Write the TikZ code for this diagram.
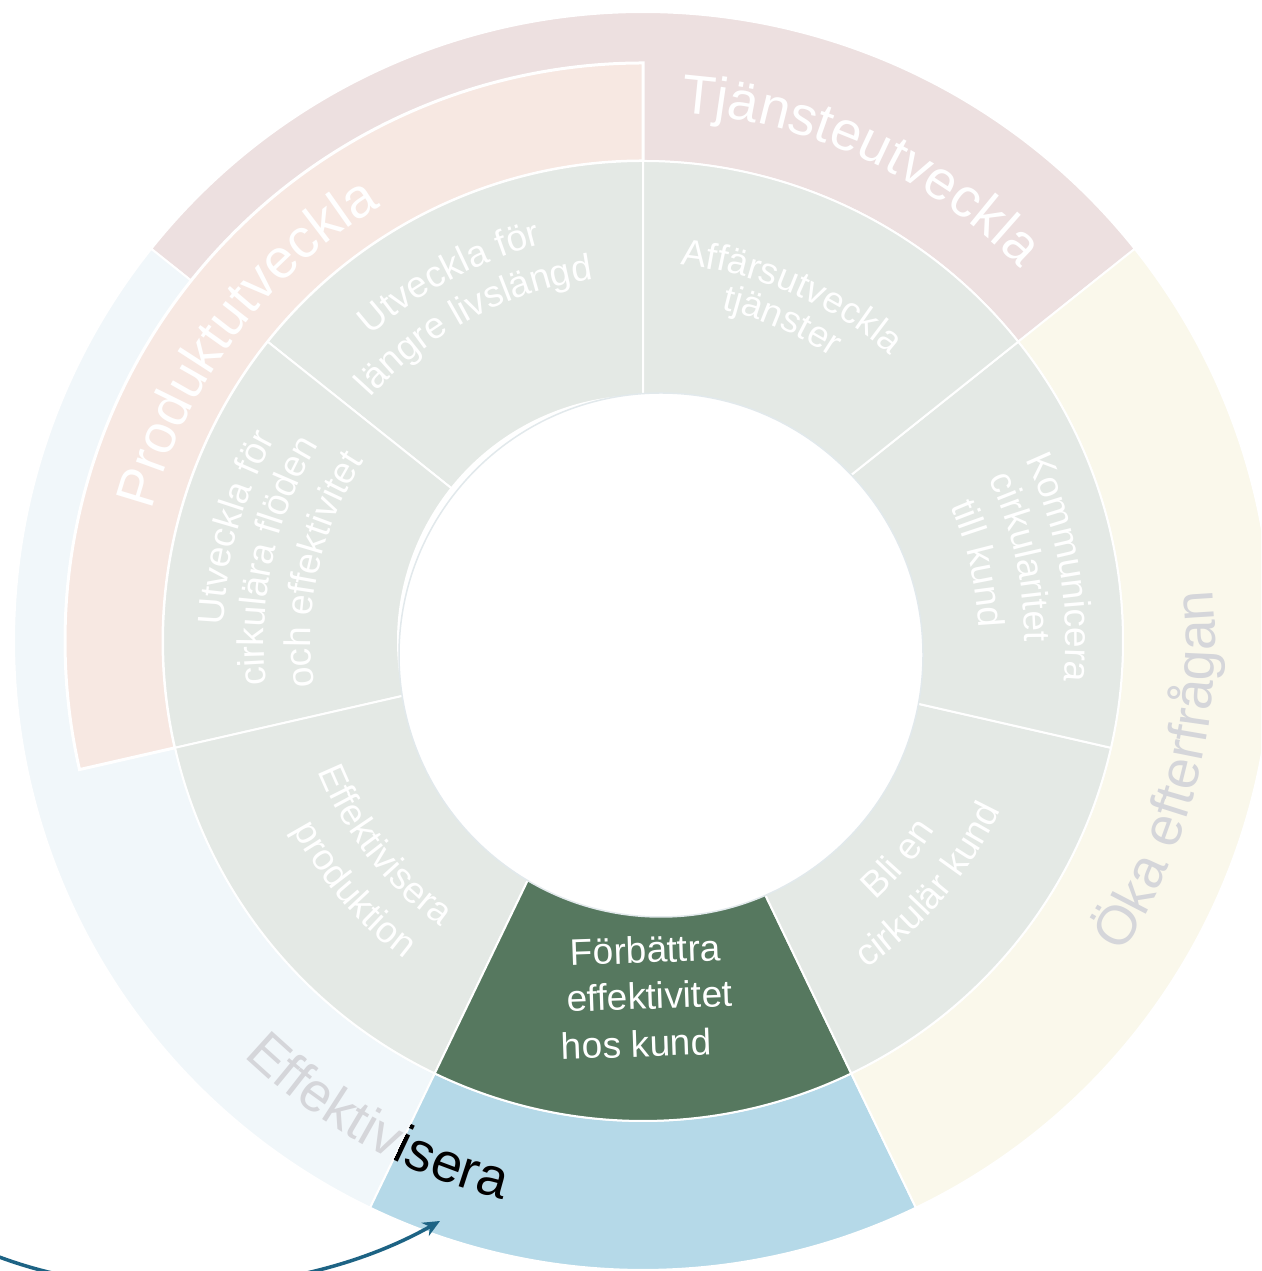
\documentclass[tikz,border=0pt]{standalone}
\usepackage{fontspec}
\setmainfont{Liberation Sans}
\usetikzlibrary{decorations.text, arrows.meta}
\definecolor{mauve}{HTML}{EDE0E0}
\definecolor{peach}{HTML}{F7E8E2}
\definecolor{segray}{HTML}{E4E9E5}
\definecolor{cream}{HTML}{FAF8EB}
\definecolor{paleblue}{HTML}{F1F7FA}
\definecolor{hiblue}{HTML}{B5D9E8}
\definecolor{higreen}{HTML}{56785F}
\definecolor{fadetext}{HTML}{D5D6DA}
\definecolor{arrowblue}{HTML}{1D6384}
\definecolor{rimgray}{HTML}{E2E9EC}
% annular sector: style, fill, a1, a2, r1, r2
\newcommand\ringseg[6]{%
  \path[#1, fill=#2] (#3:#5) arc[start angle=#3, end angle=#4, radius=#5]
    -- (#4:#6) arc[start angle=#4, end angle=#3, radius=#6] -- cycle;}
% text along a clockwise arc (tops outward): radius, centre angle, size, colour, text
\newcommand\cwlabel[5]{%
  \path[decorate, decoration={text along path, text align=center,
    text={|\fontsize{#3}{#3}\selectfont\color{#4}|#5}}]
    (#2+50:#1) arc[start angle=#2+50, end angle=#2-50, radius=#1];}
% text along a counter-clockwise arc (tops inward)
\newcommand\ccwlabel[5]{%
  \path[decorate, decoration={text along path, text align=center,
    text={|\fontsize{#3}{#3}\selectfont\color{#4}|#5}}]
    (#2-50:#1) arc[start angle=#2-50, end angle=#2+50, radius=#1];}
\begin{document}
\begin{tikzpicture}[x=1pt,y=1pt,
  seg/.style={draw=white, line width=2pt},
  bigseg/.style={draw=white, line width=3pt},
  greentext/.style={text=white, font=\fontsize{37}{37}\selectfont, anchor=base, inner sep=0pt, rotate=2},
  pointer/.style={draw=arrowblue, line width=3.5pt, -{Stealth[length=17pt, width=15pt]}}]
\useasboundingbox (0,0) rectangle (1261,1271);
\clip (0,0) rectangle (1261,1271);
\fill[white] (0,0) rectangle (1261,1271);
\begin{scope}[shift={(643,630)}]
  % outer ring
  \ringseg{seg}{mauve}{38.571}{141.429}{480}{629}
  \ringseg{seg}{paleblue}{141.429}{244.286}{480}{629}
  \ringseg{seg}{hiblue}{244.286}{295.714}{480}{629}
  \ringseg{seg}{cream}{-64.286}{38.571}{480}{629}
  \ringseg{bigseg}{peach}{90}{192.857}{480}{578}
  % inner ring
  \ringseg{seg}{segray}{90}{141.429}{245}{480}
  \ringseg{seg}{segray}{141.429}{192.857}{245}{480}
  \ringseg{seg}{segray}{192.857}{244.286}{245}{480}
  \ringseg{seg}{higreen}{244.286}{295.714}{245}{480}
  \ringseg{seg}{segray}{295.714}{347.143}{245}{480}
  \ringseg{seg}{segray}{347.143}{398.571}{245}{480}
  \ringseg{seg}{segray}{38.571}{90}{245}{480}
  % centre hole
  \filldraw[fill=white, draw=rimgray, line width=1.5pt] (18,-14) circle[radius=262];
  % outer labels
  \cwlabel{530}{65.3}{55}{white}{Tjänsteutveckla}
  \cwlabel{508}{143.1}{55}{white}{Produktutveckla}
  \ccwlabel{572}{-14}{55}{fadetext}{Öka efterfrågan}
  \ccwlabel{576}{241}{55}{fadetext}{Effektivisera}
  \begin{scope}
    \clip (244.286:480) arc[start angle=244.286, end angle=295.714, radius=480]
      -- (295.714:629) arc[start angle=295.714, end angle=244.286, radius=629] -- cycle;
    \ccwlabel{576}{241}{55}{black}{Effektivisera}
  \end{scope}
  % inner labels
  \cwlabel{409}{118}{37}{white}{Utveckla för}
  \cwlabel{365}{118}{37}{white}{längre livslängd}
  \cwlabel{378}{66.7}{37}{white}{Affärsutveckla}
  \cwlabel{341}{66.5}{37}{white}{tjänster}
  \cwlabel{423}{10}{37}{white}{Kommunicera}
  \cwlabel{382}{12.5}{37}{white}{cirkularitet}
  \cwlabel{336}{12.9}{37}{white}{till kund}
  \ccwlabel{348}{-40.5}{37}{white}{Bli en}
  \ccwlabel{396}{-40.5}{37}{white}{cirkulär kund}
  \ccwlabel{350}{218.3}{37}{white}{Effektivisera}
  \ccwlabel{398}{220.7}{37}{white}{produktion}
  \cwlabel{420}{164.5}{37}{white}{Utveckla för}
  \cwlabel{379}{167.7}{37}{white}{cirkulära flöden}
  \cwlabel{332}{167.5}{37}{white}{och effektivitet}
\end{scope}
% highlighted segment text
\node[greentext] (forb1) at (646,308) {Förbättra};
\node[greentext] (forb2) at (650,262) {effektivitet};
\node[greentext] (forb3) at (637,214) {hos kund};
% pointer arrow
\coordinate (arrowstart) at (-40,31);
\coordinate (arrowtip) at (440,50);
\draw[pointer] (arrowstart) .. controls (100,-39) and (300,-29) .. (arrowtip);
\end{tikzpicture}
\end{document}
